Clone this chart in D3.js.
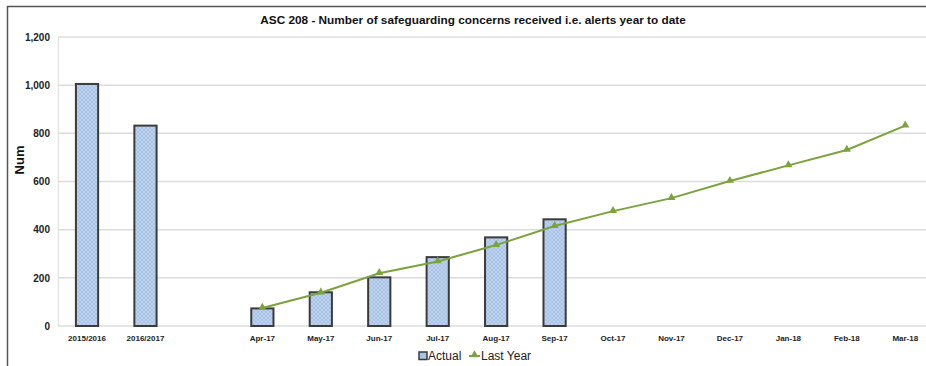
<!DOCTYPE html>
<html>
<head>
<meta charset="utf-8">
<script src="https://cdn.jsdelivr.net/npm/d3@7"></script>
<style>
  html, body { margin: 0; padding: 0; background: #fff; }
  svg { display: block; font-family: "Liberation Sans", Arial, sans-serif; }
</style>
</head>
<body>
<svg id="chart" width="926" height="366"></svg>
<script>
// Categories: two annual totals, a spacer slot, then the monthly year-to-date points
const categories = ["2015/2016", "2016/2017", "", "Apr-17", "May-17", "Jun-17", "Jul-17",
  "Aug-17", "Sep-17", "Oct-17", "Nov-17", "Dec-17", "Jan-18", "Feb-18", "Mar-18"];
const actual = [1005, 832, null, 73, 140, 202, 286, 368, 443, null, null, null, null, null, null];
const lastYear = [null, null, null, 75, 138, 219, 268, 336, 415, 477, 531, 602, 667, 731, 832];
const yTicks = [0, 200, 400, 600, 800, 1000, 1200];

const titleText = "ASC 208 - Number of safeguarding concerns received i.e. alerts year to date";
const yLabel = "Num";
const legendLabels = ["Actual", "Last Year"];

const barBlue = "#a9c3e7";
const barEdge = "#3b3b3b";
const green = "#7ba33d";
const gridGrey = "#dcdcdc";

const svg = d3.select("#chart");

// Hatched light-blue fill used for the bars
const defs = svg.append("defs");
const pat = defs.append("pattern")
  .attr("id", "hatch")
  .attr("width", 4).attr("height", 4)
  .attr("patternUnits", "userSpaceOnUse");
pat.append("rect").attr("width", 4).attr("height", 4).attr("fill", barBlue);
pat.append("path").attr("d", "M0,0 L4,4 M4,0 L0,4")
  .attr("stroke", "#c3d5ee").attr("stroke-width", 0.8);

// Outer frame (left and top edges)
svg.append("path")
  .attr("d", "M7.5,366 L7.5,6.5 L926,6.5")
  .attr("fill", "none").attr("stroke", "#555").attr("stroke-width", 1.5);

const x = d3.scaleBand().domain(categories).range([57.8, 934.5]).paddingInner(0.62).paddingOuter(0.31);
const y = d3.scaleLinear().domain([0, 1200]).range([326, 37]);

// Horizontal gridlines
svg.append("g").selectAll("line").data(yTicks).join("line")
  .attr("x1", 58).attr("x2", 926)
  .attr("y1", d => y(d)).attr("y2", d => y(d))
  .attr("stroke", gridGrey).attr("stroke-width", 1.5);

// Left plot edge
svg.append("line").attr("x1", 58.3).attr("x2", 58.3).attr("y1", 37).attr("y2", 326)
  .attr("stroke", gridGrey).attr("stroke-width", 1);

// Y axis
const yAxis = svg.append("g").attr("transform", "translate(58,0)")
  .call(d3.axisLeft(y).tickValues(yTicks).tickFormat(d3.format(",")).tickSize(0).tickPadding(8));
yAxis.select(".domain").remove();
yAxis.selectAll("text")
  .attr("font-family", "'Liberation Sans', Arial, sans-serif")
  .attr("font-size", 10).attr("font-weight", "bold").attr("fill", "#222");

// X axis
const xAxis = svg.append("g").attr("transform", "translate(0,326)")
  .call(d3.axisBottom(x).tickSize(0).tickPadding(9));
xAxis.select(".domain").remove();
xAxis.selectAll("text")
  .attr("font-family", "'Liberation Sans', Arial, sans-serif")
  .attr("font-size", 8).attr("font-weight", "bold").attr("fill", "#222");

// Bars
const barData = categories.map((c, i) => ({ c, v: actual[i] })).filter(d => d.v != null);
svg.append("g").selectAll("rect").data(barData).join("rect")
  .attr("x", d => x(d.c))
  .attr("y", d => y(d.v))
  .attr("width", x.bandwidth())
  .attr("height", d => y(0) - y(d.v))
  .attr("fill", "url(#hatch)")
  .attr("stroke", barEdge).attr("stroke-width", 2);

// Last year line with triangle markers
const lineData = categories.map((c, i) => ({ c, v: lastYear[i] })).filter(d => d.v != null);
const cx = d => x(d.c) + x.bandwidth() / 2;
svg.append("path").datum(lineData)
  .attr("d", d3.line().x(cx).y(d => y(d.v)))
  .attr("fill", "none").attr("stroke", green).attr("stroke-width", 2);
const tri = d3.symbol().type(d3.symbolTriangle).size(28);
svg.append("g").selectAll("path").data(lineData).join("path")
  .attr("transform", d => `translate(${cx(d)},${y(d.v) - 0.5})`)
  .attr("d", tri).attr("fill", green);

// Title
svg.append("text")
  .attr("x", 473).attr("y", 24)
  .attr("text-anchor", "middle")
  .attr("font-size", 11.8).attr("font-weight", "bold").attr("fill", "#111")
  .text(titleText);

// Y axis title
svg.append("text")
  .attr("transform", "translate(24,160) rotate(-90)")
  .attr("text-anchor", "middle")
  .attr("font-size", 13).attr("font-weight", "bold").attr("fill", "#111")
  .text(yLabel);

// Legend
const lg = svg.append("g");
lg.append("rect").attr("x", 419).attr("y", 352).attr("width", 8).attr("height", 7.5)
  .attr("fill", barBlue).attr("stroke", barEdge).attr("stroke-width", 1.5);
lg.append("text").attr("x", 428).attr("y", 360).attr("font-size", 12).attr("fill", "#222")
  .text(legendLabels[0]);
lg.append("line").attr("x1", 469).attr("x2", 480).attr("y1", 356).attr("y2", 356)
  .attr("stroke", green).attr("stroke-width", 2);
lg.append("path").attr("transform", "translate(474.5,355)").attr("d", tri).attr("fill", green);
lg.append("text").attr("x", 481).attr("y", 360).attr("font-size", 12).attr("fill", "#222")
  .text(legendLabels[1]);
</script>
</body>
</html>
